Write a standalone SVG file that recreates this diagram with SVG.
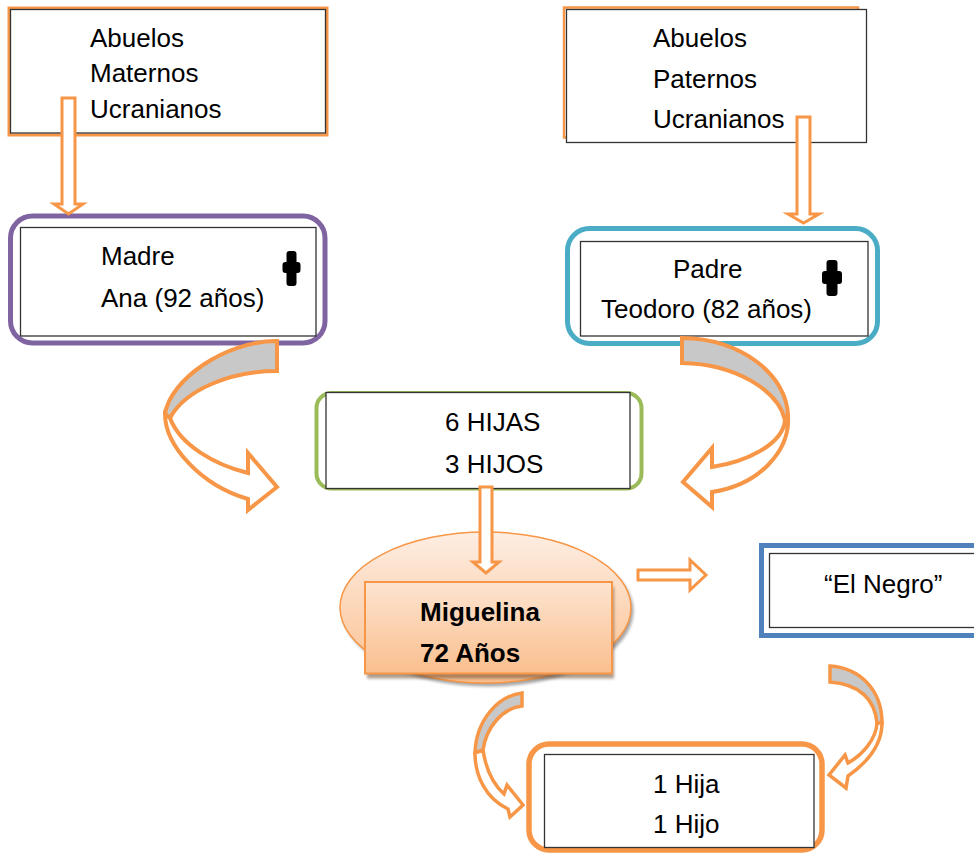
<svg xmlns="http://www.w3.org/2000/svg" width="974" height="855" viewBox="0 0 974 855">
<defs>
<style>
.t{font-family:"Liberation Sans",Arial,sans-serif;font-size:26px;fill:#000}
.b{font-weight:bold}
.inner{fill:#fff;stroke:#333;stroke-width:1.3}
.blk{fill:#fff;stroke:#F79646;stroke-width:3;stroke-linejoin:miter}
.cg{fill:#C8C8C8;stroke:#F79646;stroke-width:4;stroke-linejoin:miter}
.cw{fill:#fff;stroke:#F79646;stroke-width:4;stroke-linejoin:miter}
.cbg{fill:#C8C8C8;stroke:#F79646;stroke-width:3.5;stroke-linejoin:miter}
.cbw{fill:#fff;stroke:#F79646;stroke-width:3.5;stroke-linejoin:miter}
.cross{fill:#000}
</style>
<linearGradient id="gEll" x1="0" y1="0" x2="0" y2="1">
<stop offset="0" stop-color="#FEEEE3"/>
<stop offset="0.5" stop-color="#FCD6B8"/>
<stop offset="1" stop-color="#FAC08F"/>
</linearGradient>
<linearGradient id="gRect" x1="0" y1="0" x2="0" y2="1">
<stop offset="0" stop-color="#FDE4D0"/>
<stop offset="1" stop-color="#FABF8F"/>
</linearGradient>
<filter id="sh" x="-10%" y="-10%" width="120%" height="130%">
<feGaussianBlur stdDeviation="1.5"/>
</filter>
</defs>

<g id="abuelos-maternos">
<rect x="9" y="8" width="318" height="127" fill="none" stroke="#F79646" stroke-width="3"/>
<rect x="10.5" y="9.5" width="315" height="123.5" class="inner"/>
<text class="t" x="90" y="47">Abuelos</text>
<text class="t" x="90" y="82">Maternos</text>
<text class="t" x="90" y="118">Ucranianos</text>
</g>

<g id="abuelos-paternos">
<rect x="564" y="7.5" width="294" height="130" fill="none" stroke="#F79646" stroke-width="2.5"/>
<rect x="566.5" y="9.5" width="300" height="133" class="inner"/>
<text class="t" x="653" y="47">Abuelos</text>
<text class="t" x="653" y="88">Paternos</text>
<text class="t" x="653" y="128">Ucranianos</text>
</g>

<g id="madre">
<rect x="10.5" y="216" width="314.5" height="127" rx="22" fill="#fff" stroke="#8064A2" stroke-width="5"/>
<rect x="20.5" y="227.5" width="295.5" height="108.5" class="inner"/>
<text class="t" x="101" y="265">Madre</text>
<text class="t" x="101" y="307">Ana (92 años)</text>
<rect class="cross" x="286.5" y="251" width="10" height="35" rx="3"/>
<rect class="cross" x="282.5" y="262" width="18" height="11" rx="3"/>
</g>

<g id="padre">
<rect x="567.5" y="228.5" width="310" height="115" rx="22" fill="#fff" stroke="#4BACC6" stroke-width="5"/>
<rect x="580.5" y="241.5" width="287.5" height="94.5" class="inner"/>
<text class="t" x="673" y="278">Padre</text>
<text class="t" x="601" y="318">Teodoro (82 años)</text>
<rect class="cross" x="826.5" y="260" width="11" height="36" rx="3"/>
<rect class="cross" x="822" y="271" width="20" height="13" rx="3"/>
</g>

<g id="hijos-padres">
<rect x="316.5" y="393" width="325" height="95.5" rx="15" fill="#fff" stroke="#9BBB59" stroke-width="4"/>
<rect x="326" y="392.5" width="304" height="96" class="inner"/>
<text class="t" x="445" y="431">6 HIJAS</text>
<text class="t" x="445" y="473">3 HIJOS</text>
</g>

<g id="miguelina">
<ellipse cx="488" cy="611" rx="145.5" ry="75.5" fill="#808080" opacity="0.7" filter="url(#sh)"/>
<ellipse cx="485.5" cy="607.5" rx="145.5" ry="75.5" fill="url(#gEll)" stroke="#F79646" stroke-width="1.5"/>
<rect x="367" y="587" width="247" height="91.5" fill="#6b4a30" opacity="0.55" filter="url(#sh)"/>
<rect x="365" y="582" width="247" height="91.5" fill="url(#gRect)" stroke="#F79646" stroke-width="2"/>
<text class="t b" x="420" y="621">Miguelina</text>
<text class="t b" x="420" y="662">72 Años</text>
</g>

<g id="el-negro">
<rect x="761.5" y="545.5" width="300" height="90" fill="#fff" stroke="#4F81BD" stroke-width="5"/>
<rect x="769.5" y="553.5" width="300" height="74" class="inner"/>
<text class="t" x="824" y="593">“El Negro”</text>
</g>

<g id="hijos-miguelina">
<rect x="529" y="744" width="293" height="106" rx="20" fill="#fff" stroke="#F79646" stroke-width="5.5"/>
<rect x="544.5" y="754.5" width="269.5" height="93" class="inner"/>
<text class="t" x="653" y="793">1 Hija</text>
<text class="t" x="653" y="833">1 Hijo</text>
</g>

<g id="connectors">
<path class="blk" d="M62,98 L75,98 L75,204 L83,204 L68.5,214 L54,204 L62,204 Z"/>
<path class="blk" d="M797,117 L810,117 L810,214 L819,214 L803.5,223 L788,214 L797,214 Z"/>
<path class="blk" d="M480,487 L492,487 L492,562 L499,562 L486,573 L473,562 L480,562 Z"/>
<path class="blk" d="M638,570 L690,570 L690,560 L706,575 L690,590 L690,580 L638,580 Z"/>

<path class="cg" d="M277,341 C225,341 170,380 165,414 L170,418 C185,390 230,371 277,371 Z"/>
<path class="cw" d="M165,414 C165,445 200,485 248,499 L248,510 L277,487 L248,453 L248,473 C215,465 180,445 170,418 Z"/>

<path class="cg" d="M682,338 C740,338 788,375 788,417 L785,420 C778,390 735,364 682,363 Z"/>
<path class="cw" d="M788,417 C790,450 760,485 712,492 L712,507 L683,482 L712,448 L712,467 C745,462 783,445 785,420 Z"/>

<path class="cbg" d="M522,693 C498,696 476,720 475,753 L483,750 C486,728 502,708 522,706 Z"/>
<path class="cbw" d="M475,753 C475,775 485,798 508,809 L510,817 L523,805 L507,785 L504,794 C494,785 486,770 483,750 Z"/>

<path class="cbg" d="M830,666 C860,668 882,690 882,723 L877,723 C875,700 860,684 830,682 Z"/>
<path class="cbw" d="M882,723 C882,745 868,762 848,776 L846,788 L829,775 L845,755 L848,763 C862,755 876,740 877,723 Z"/>
</g>
</svg>
